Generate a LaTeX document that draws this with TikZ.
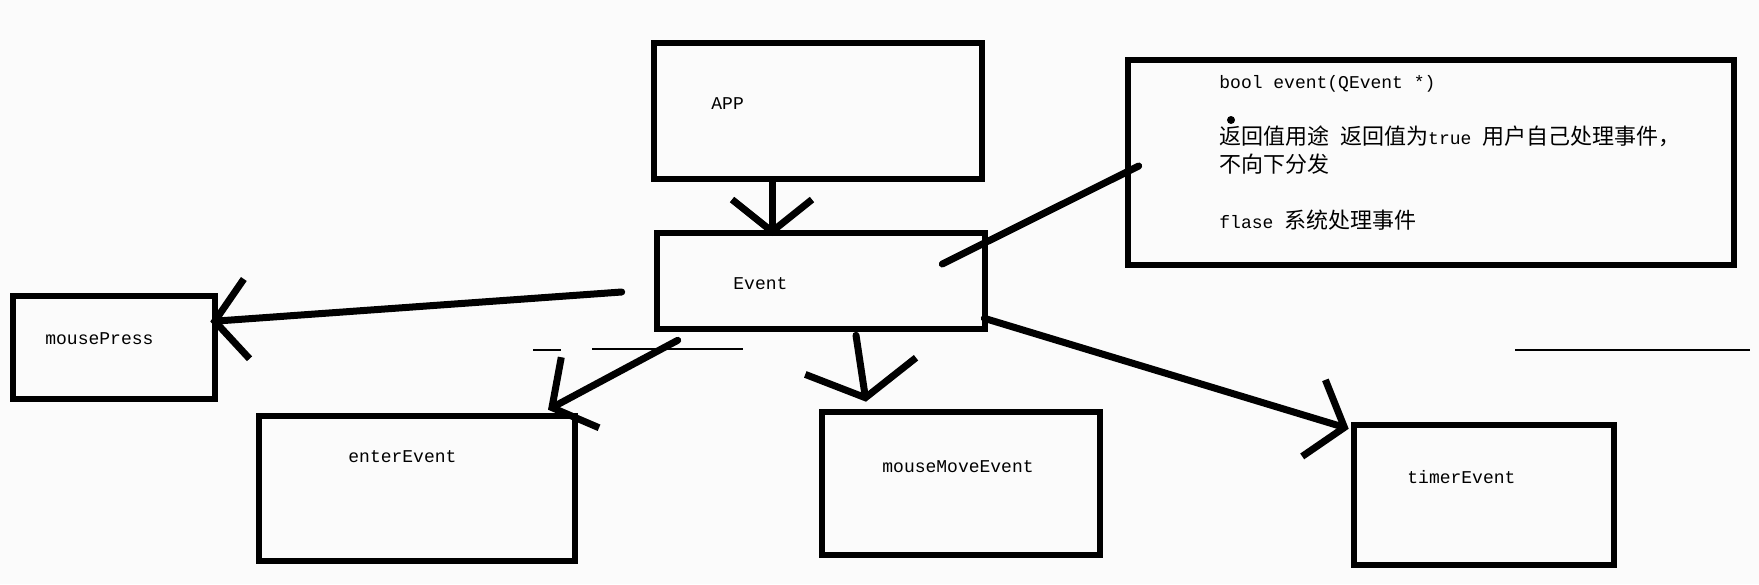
\documentclass[tikz,border=0pt]{standalone}
\usepackage{fontspec}
\setmonofont{Liberation Mono}
\newfontfamily\cjk{Noto Sans CJK SC}
\usetikzlibrary{arrows.meta}

\definecolor{paper}{RGB}{251,251,251}
\newcommand{\zhtxt}[1]{{\cjk\fontsize{11}{14}\selectfont #1}}

\begin{document}
\begin{tikzpicture}[x=0.5pt,y=-0.5pt,
					every node/.style = {font=\ttfamily\fontsize{9}{14}\selectfont}]

\tikzstyle{box}=[rectangle, draw, line width=3.3pt, inner sep=0pt]
\tikzstyle{txt}=[anchor=west, inner sep=0pt]
\tikzstyle{arr}=[line width=3.5pt, line cap=round, -{Straight Barb[length=16pt,width=40pt]}]
\tikzstyle{wide}=[-{Straight Barb[length=16pt,width=56pt]}]
\tikzstyle{stray}=[line width=1.2pt]

\fill[paper] (0,0) rectangle (1759,584);
\useasboundingbox (0,0) rectangle (1759,584);

\node[box, minimum width=164pt, minimum height=68pt] (app) at (818,111) {};
\node[box, minimum width=164pt, minimum height=48pt] (evt) at (821,281) {};
\node[box, minimum width=101pt, minimum height=51.5pt] (mp) at (114,347.5) {};
\node[box, minimum width=158pt, minimum height=72.5pt] (enter) at (417,488.5) {};
\node[box, minimum width=139pt, minimum height=71.5pt] (move) at (961,483.5) {};
\node[box, minimum width=130pt, minimum height=70pt] (timer) at (1484,495) {};
\node[box, minimum width=303pt, minimum height=102.5pt] (note) at (1431,162.5) {};

\node[txt] (app text) at (711,104) {APP};
\node[txt] (evt text) at (733,284) {Event};
\node[txt] (mp text) at (45,339) {mousePress};
\node[txt] (enter text) at (348,457) {enterEvent};
\node[txt] (move text) at (882,467) {mouseMoveEvent};
\node[txt] (timer text) at (1407,477) {timerEvent};
\node[anchor=north west, inner sep=0pt, align=left] (note text) at (1219,75)
	{bool event(QEvent *)\\[14pt]
	 \zhtxt{返回值用途} \zhtxt{返回值为}true \zhtxt{用户自己处理事件，}\\
	 \zhtxt{不向下分发}\\[14pt]
	 flase \zhtxt{系统处理事件}};
\fill (1231,120) circle (2pt);

\coordinate (evt top) at (772,236);
\draw[arr] (app.south -| evt top) -- (evt top);
\draw[arr] ([shift={(-32,11)}]evt.west) -- ([shift={(-8,-26)}]mp.east);
\draw[arr] ([shift={(24,8)}]evt.south west) -- ([shift={(131,-3)}]enter.north);
\draw[arr, wide] ([shift={(35,3)}]evt.south) -- ([shift={(-95,-7)}]move.north);
\draw[arr] ([shift={(-4,-14)}]evt.south east) -- ([shift={(-2,7)}]timer.north west);
\draw[line width=3.5pt, line cap=round] ([shift={(-46,-17)}]evt.east) -- ([shift={(14,3.5)}]note.west);

\draw[stray] (533,350) -- (561,350);
\draw[stray] (592,349) -- (743,349);
\draw[stray] (1515,350) -- (1750,350);
\end{tikzpicture}
\end{document}
